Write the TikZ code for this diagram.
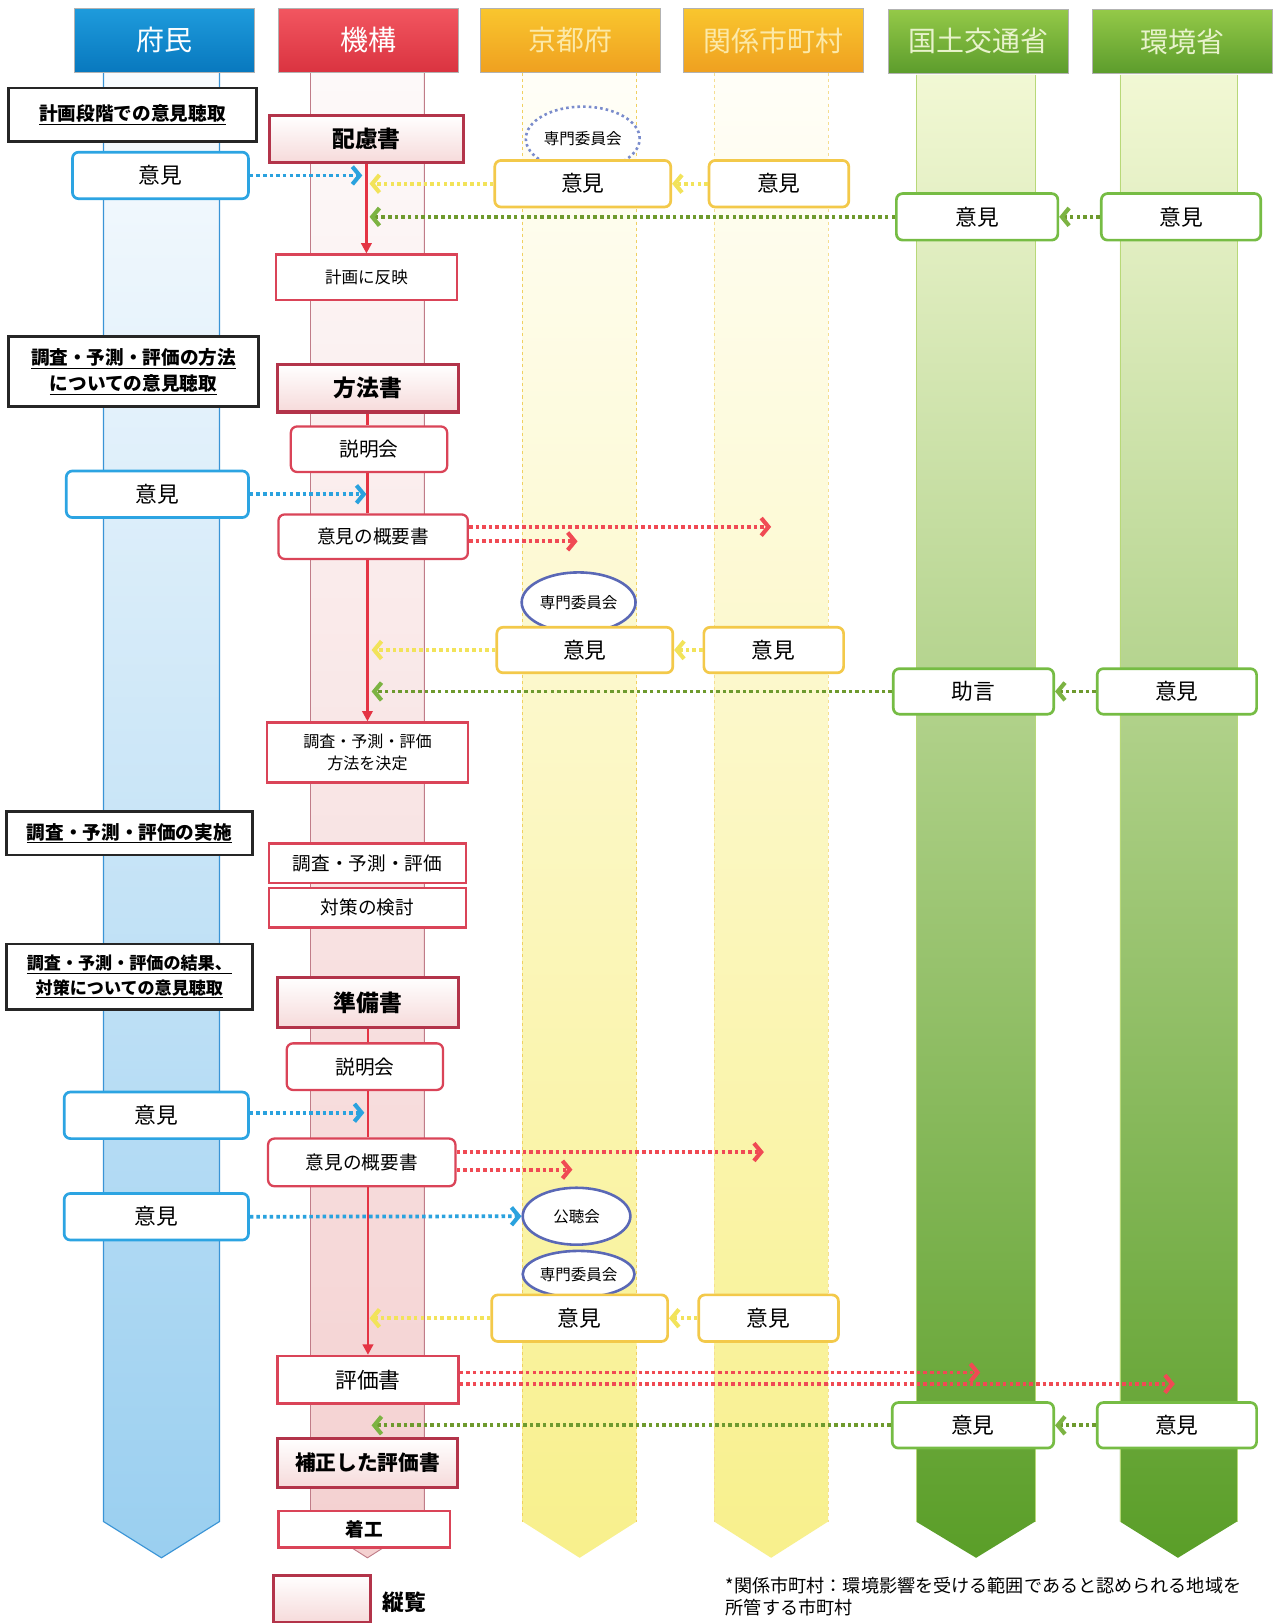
\documentclass[tikz,border=0pt]{standalone}
\usepackage{fontspec}
\setmainfont{Noto Sans CJK JP}
\usetikzlibrary{arrows.meta,shapes.geometric,calc}
\definecolor{hBlueA}{HTML}{1E9BDC}
\definecolor{hBlueB}{HTML}{0878BE}
\definecolor{hRedA}{HTML}{F25660}
\definecolor{hRedB}{HTML}{DA3340}
\definecolor{hOrA}{HTML}{F9C62E}
\definecolor{hOrB}{HTML}{EFA020}
\definecolor{hGrA}{HTML}{94C948}
\definecolor{hGrB}{HTML}{5C9C2C}
\definecolor{fuA}{HTML}{F8FBFE}
\definecolor{fuB}{HTML}{D6EBF8}
\definecolor{fuC}{HTML}{9ACFF0}
\definecolor{kiA}{HTML}{FDF9F9}
\definecolor{kiB}{HTML}{F9E6E6}
\definecolor{kiC}{HTML}{F4D0D0}
\definecolor{yeA}{HTML}{FFFEF8}
\definecolor{yeB}{HTML}{FCF7C6}
\definecolor{yeC}{HTML}{F8F08C}
\definecolor{grA}{HTML}{F2F8D4}
\definecolor{grB}{HTML}{D6EA9C}
\definecolor{grC}{HTML}{5A9E28}
\definecolor{edgeBlue}{HTML}{3A94D6}
\definecolor{edgeRed}{HTML}{C07C88}
\definecolor{edgeYel}{HTML}{F0D060}
\definecolor{edgeGr}{HTML}{B8D878}
\definecolor{docred}{HTML}{B3344A}
\definecolor{docpink}{HTML}{F6DADA}
\definecolor{boxred}{HTML}{DA4458}
\definecolor{opblue}{HTML}{2CA4E2}
\definecolor{opyel}{HTML}{F3C94A}
\definecolor{opgreen}{HTML}{76BC44}
\definecolor{commblue}{HTML}{5A68B6}
\definecolor{commdot}{HTML}{7A8CCC}
\definecolor{arrblue}{HTML}{2AA2DE}
\definecolor{arryel}{HTML}{F2E35A}
\definecolor{arrgreen}{HTML}{6E9A2E}
\definecolor{tipgreen}{HTML}{7CB342}
\definecolor{arrred}{HTML}{F04A54}
\definecolor{lineRed}{HTML}{E43444}
\definecolor{txtKyoto}{HTML}{FCE9A8}
\definecolor{txtGreen}{HTML}{E8F3CC}
\tikzset{
  hdr/.style={minimum width=174pt, minimum height=62pt, inner sep=0pt, draw=black!30, line width=0.8pt, font=\fontsize{27}{29}\selectfont},
  sec/.style={draw=black!85, line width=2.6pt, fill=white, inner sep=0pt, align=center, font=\bfseries\fontsize{18}{25}\selectfont},
  docbox/.style={draw=docred, line width=3pt, top color=white, bottom color=docpink, inner sep=0pt, font=\bfseries\fontsize{22}{24}\selectfont},
  redbox/.style={draw=boxred, line width=2.2pt, fill=white, inner sep=0pt, align=center},
  redround/.style={redbox, rounded corners=6pt},
  opbox/.style={line width=2.6pt, fill=white, rounded corners=6pt, inner sep=0pt, font=\fontsize{21}{23}\selectfont},
  opb/.style={opbox, draw=opblue},
  opy/.style={opbox, draw=opyel},
  opg/.style={opbox, draw=opgreen},
  committee/.style={ellipse, draw=commblue, line width=2.5pt, fill=white, inner sep=0pt, font=\fontsize{15}{17}\selectfont},
  dotarr/.style={line width=3.6pt, dash pattern=on 3.4pt off 3pt},
  chev/.tip={Straight Barb[length=7pt,width=17pt,line width=4pt]},
  bluearr/.style={dotarr, draw=arrblue, -chev},
  yelarr/.style={dotarr, draw=arryel, -chev},
  grnarr/.style={dotarr, draw=arrgreen, -{Straight Barb[length=7pt,width=17pt,line width=4pt,color=tipgreen]}},
  redarr/.style={dotarr, draw=arrred, -chev},
  redline/.style={draw=lineRed, line width=2.4pt},
  redflow/.style={redline, -{Triangle[length=10pt,width=10pt]}}
}
\begin{document}
\begin{tikzpicture}[x=1pt,y=-1pt]
\useasboundingbox (0,0) rectangle (1236,1568);
\fill[white] (0,0) rectangle (1236,1568);

% ---------- lanes ----------
\shade[top color=fuA, middle color=fuB, bottom color=fuC] (100,70) -- (212,70) -- (212,1470) -- (156,1505) -- (100,1470) -- cycle;
\draw[edgeBlue, line width=1.1pt] (100,70) -- (100,1470) -- (156,1505) -- (212,1470) -- (212,70);
\shade[top color=kiA, middle color=kiB, bottom color=kiC] (300,70) -- (410,70) -- (410,1470) -- (355,1505) -- (300,1470) -- cycle;
\draw[edgeRed, line width=0.9pt] (300,70) -- (300,1470) -- (355,1505) -- (410,1470) -- (410,70);
\shade[top color=yeA, middle color=yeB, bottom color=yeC] (505,70) -- (615,70) -- (615,1470) -- (560,1505) -- (505,1470) -- cycle;
\draw[edgeYel, line width=0.8pt, dashed] (505,70) -- (505,1470);
\draw[edgeYel, line width=0.8pt, dashed] (615,70) -- (615,1470);
\shade[top color=yeA, middle color=yeB, bottom color=yeC] (690,70) -- (800,70) -- (800,1470) -- (745,1505) -- (690,1470) -- cycle;
\draw[edgeYel!70, line width=0.6pt, dashed] (690,70) -- (690,1470);
\draw[edgeYel!70, line width=0.6pt, dashed] (800,70) -- (800,1470);
\shade[top color=grA, middle color=grB, bottom color=grC] (885,72) -- (1000,72) -- (1000,1470) -- (943,1505) -- (885,1470) -- cycle;
\draw[edgeGr, line width=0.8pt] (885,72) -- (885,1470);
\draw[edgeGr, line width=0.8pt] (1000,72) -- (1000,1470);
\shade[top color=grA, middle color=grB, bottom color=grC] (1082,72) -- (1195,72) -- (1195,1470) -- (1138,1505) -- (1082,1470) -- cycle;
\draw[edgeGr, line width=0.8pt] (1082,72) -- (1082,1470);
\draw[edgeGr, line width=0.8pt] (1195,72) -- (1195,1470);

% ---------- headers ----------
\node[hdr, top color=hBlueA, bottom color=hBlueB, text=white] (hfumin) at (159,39) {府民};
\node[hdr, top color=hRedA, bottom color=hRedB, text=white] (hkiko) at (356,39) {機構};
\node[hdr, top color=hOrA, bottom color=hOrB, text=txtKyoto] (hkyoto) at (551,39) {京都府};
\node[hdr, top color=hOrA, bottom color=hOrB, text=txtKyoto] (hshi) at (747,39) {関係市町村};
\node[hdr, top color=hGrA, bottom color=hGrB, text=txtGreen] (hkoku) at (945,40) {国土交通省};
\node[hdr, top color=hGrA, bottom color=hGrB, text=txtGreen] (hkan) at (1142,40) {環境省};

% ---------- section labels ----------
\node[sec, minimum width=240pt, minimum height=52pt] (sec1) at (128,111) {\underline{計画段階での意見聴取}};
\node[sec, minimum width=242pt, minimum height=68pt] (sec2) at (129,359) {\underline{調査・予測・評価の方法}\\\underline{についての意見聴取}};
\node[sec, minimum width=238pt, minimum height=42pt] (sec3) at (125,805) {\underline{調査・予測・評価の実施}};
\node[sec, minimum width=238pt, minimum height=63pt, font=\bfseries\fontsize{16.5}{24}\selectfont] (sec4) at (125,943.5) {\underline{調査・予測・評価の結果、}\\\underline{対策についての意見聴取}};

% ---------- section 1 ----------
\node[docbox, minimum width=188pt, minimum height=45pt] (hairyo) at (354,134.5) {配慮書};
\node[committee, draw=commdot, dash pattern=on 2.5pt off 3pt, minimum width=110pt, minimum height=62pt] (senmon1) at (563,134) {専門委員会};
\node[opb, minimum width=170pt, minimum height=45pt] (fo1) at (155,169.5) {意見};
\node[opy, minimum width=170pt, minimum height=45pt] (ky1) at (563,177.5) {意見};
\node[opy, minimum width=135pt, minimum height=45pt] (sh1) at (752.5,177.5) {意見};
\node[opg, minimum width=156pt, minimum height=45pt] (kk1) at (944,209.5) {意見};
\node[opg, minimum width=154pt, minimum height=45pt] (kn1) at (1141,209.5) {意見};
\node[redbox, minimum width=175pt, minimum height=44pt, font=\fontsize{16}{18}\selectfont] (hanei) at (354,268) {計画に反映};

\coordinate (b1) at (350,169.5);
\coordinate (y1) at (357,177.5);
\coordinate (g1) at (357,209.5);
\draw[redflow] (hairyo.south -| hanei) -- (hanei.north);
\draw[bluearr] (fo1.east) -- (b1);
\draw[yelarr] (ky1.west) -- (y1);
\draw[yelarr] (sh1.west) -- (ky1.east);
\draw[grnarr] (kk1.west) -- (g1);
\draw[grnarr] (kn1.west) -- (kk1.east);

% ---------- section 2 ----------
\node[docbox, minimum width=175pt, minimum height=46pt] (houhou) at (355.5,375) {方法書};
\node[redround, minimum width=151pt, minimum height=44pt, font=\fontsize{19}{21}\selectfont] (setsu1) at (356.5,434) {説明会};
\node[opb, minimum width=176pt, minimum height=45pt] (fo2) at (152,477.5) {意見};
\node[redround, minimum width=183pt, minimum height=43pt, font=\fontsize{18}{20}\selectfont] (gaiyo1) at (360.5,518.5) {意見の概要書};
\node[committee, minimum width=110pt, minimum height=58pt] (senmon2) at (559,582) {専門委員会};
\node[opy, minimum width=170pt, minimum height=44pt] (ky2) at (565,628) {意見};
\node[opy, minimum width=135pt, minimum height=44pt] (sh2) at (747.5,628) {意見};
\node[opg, minimum width=155pt, minimum height=44pt] (kk2) at (940.5,668) {助言};
\node[opg, minimum width=154pt, minimum height=44pt] (kn2) at (1137,668) {意見};
\node[redbox, minimum width=194pt, minimum height=58pt, font=\fontsize{15.5}{21}\selectfont] (kettei) at (355,727) {調査・予測・評価\\方法を決定};

\coordinate (b2) at (354,477.5);
\coordinate (r1) at (745,509);
\coordinate (r2) at (558,523);
\coordinate (y2) at (359,628);
\coordinate (g2) at (359,668);
\draw[redline] (houhou.south -| kettei) -- (setsu1.north -| kettei);
\draw[redline] (setsu1.south -| kettei) -- (gaiyo1.north -| kettei);
\draw[redflow] (gaiyo1.south -| kettei) -- (kettei.north);
\draw[bluearr] (fo2.east) -- (b2);
\draw[redarr] (gaiyo1.east |- r1) -- (r1);
\draw[redarr] (gaiyo1.east |- r2) -- (r2);
\draw[yelarr] (ky2.west) -- (y2);
\draw[yelarr] (sh2.west) -- (ky2.east);
\draw[grnarr] (kk2.west) -- (g2);
\draw[grnarr] (kn2.west) -- (kk2.east);

% ---------- section 3 ----------
\node[redbox, minimum width=190pt, minimum height=38pt, font=\fontsize{18}{20}\selectfont] (chosa) at (355,834) {調査・予測・評価};
\node[redbox, minimum width=190pt, minimum height=38pt, font=\fontsize{18}{20}\selectfont] (taisaku) at (355,877) {対策の検討};

% ---------- section 4 ----------
\node[docbox, minimum width=175pt, minimum height=49pt] (junbi) at (355.5,968.5) {準備書};
\node[redround, minimum width=151pt, minimum height=45pt, font=\fontsize{19}{21}\selectfont] (setsu2) at (352.5,1030.5) {説明会};
\node[opb, minimum width=178pt, minimum height=45pt] (fo3) at (151,1077.5) {意見};
\node[redround, minimum width=181pt, minimum height=46pt, font=\fontsize{18}{20}\selectfont] (gaiyo2) at (349.5,1123) {意見の概要書};
\node[opb, minimum width=178pt, minimum height=45pt] (fo4) at (151,1175.5) {意見};
\node[committee, minimum width=104pt, minimum height=55pt] (kocho) at (557,1175) {公聴会};
\node[committee, minimum width=108pt, minimum height=45pt] (senmon3) at (559,1231) {専門委員会};
\node[opy, minimum width=170pt, minimum height=45pt] (ky3) at (560,1273.5) {意見};
\node[opy, minimum width=135pt, minimum height=45pt] (sh3) at (742.5,1273.5) {意見};
\node[redbox, minimum width=175pt, minimum height=46pt, font=\fontsize{21}{23}\selectfont] (hyoka) at (355.5,1333) {評価書};
\node[opg, minimum width=156pt, minimum height=44pt] (kk3) at (940,1377) {意見};
\node[opg, minimum width=154pt, minimum height=44pt] (kn3) at (1137,1377) {意見};
\node[docbox, minimum width=174pt, minimum height=47pt, font=\bfseries\fontsize{20}{22}\selectfont] (hosei) at (355,1413.5) {補正した評価書};
\node[redbox, minimum width=166pt, minimum height=35pt, font=\bfseries\fontsize{18}{20}\selectfont] (chakko) at (352,1477.5) {着工};

\coordinate (b3) at (352,1075);
\coordinate (r3) at (738,1113);
\coordinate (r4) at (553,1130);
\coordinate (y3) at (357,1273.5);
\coordinate (r5) at (947,1326);
\coordinate (r6) at (1135,1337);
\coordinate (g3) at (359,1377);
\draw[redline] (junbi.south -| hyoka) -- (setsu2.north -| hyoka);
\draw[redline] (setsu2.south -| hyoka) -- (gaiyo2.north -| hyoka);
\draw[redflow] (gaiyo2.south -| hyoka) -- (hyoka.north);
\draw[bluearr] (fo3.east |- b3) -- (b3);
\draw[redarr] (gaiyo2.east |- r3) -- (r3);
\draw[redarr] (gaiyo2.east |- r4) -- (r4);
\draw[bluearr] (fo4.east) -- (kocho.west);
\draw[yelarr] (ky3.west) -- (y3);
\draw[yelarr] (sh3.west) -- (ky3.east);
\draw[redarr] (hyoka.east |- r5) -- (r5);
\draw[redarr] (hyoka.east |- r6) -- (r6);
\draw[grnarr] (kk3.west) -- (g3);
\draw[grnarr] (kn3.west) -- (kk3.east);

% ---------- legend & footnote ----------
\node[docbox, minimum width=94pt, minimum height=46pt] (legbox) at (311,1545) {};
\node[anchor=west, font=\bfseries\fontsize{21}{23}\selectfont] (leglabel) at (366,1548) {縦覧};
\node[anchor=north west, align=left, inner sep=0pt, font=\fontsize{17.5}{21}\selectfont] (foot) at (701,1524) {*関係市町村：環境影響を受ける範囲であると認められる地域を\\所管する市町村};
\end{tikzpicture}
\end{document}
